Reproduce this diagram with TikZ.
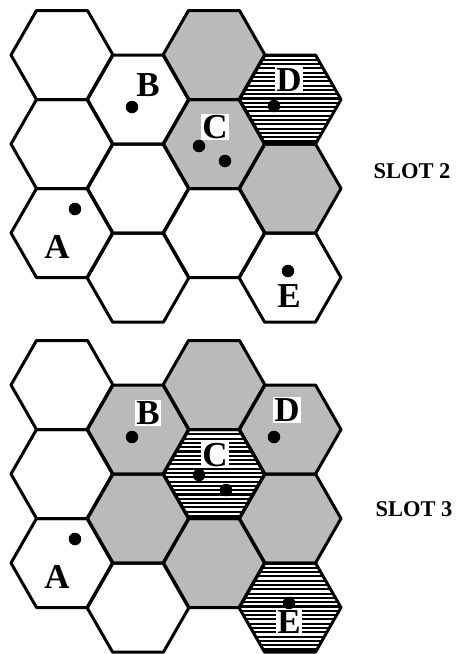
\documentclass[tikz,border=0pt]{standalone}
\usepackage{fontspec}
\setmainfont{Liberation Serif}
\newcommand\hexat[2]{(#1+51,#2) -- (#1+25.5,#2-44.5) -- (#1-25.5,#2-44.5) -- (#1-51,#2) -- (#1-25.5,#2+44.5) -- (#1+25.5,#2+44.5) -- cycle}
\newcommand\hatchhex[2]{%
  \pgfmathsetmacro\hx{62+76*#1}%
  \pgfmathsetmacro\hy{55+89*#2+44.5*mod(#1,2)}%
  \begin{scope}
    \clip \hexat{\hx}{\hy};
    \fill[white] \hexat{\hx}{\hy};
    \foreach \k in {0,...,21}{\draw[hatchline] (\hx-55,\hy-44+4.3*\k) -- ++(110,0);}
  \end{scope}}
\begin{document}
\begin{tikzpicture}[x=1pt,y=-1pt,
  hexline/.style={line width=3pt, line join=round},
  hatchline/.style={line width=2.1pt},
  wh/.style={fill=white},
  stip/.style={fill=black!27},
  lbl/.style={font=\fontsize{35}{35}\selectfont\bfseries, fill=white, inner sep=1.2pt},
  dotn/.style={circle, fill=black, inner sep=0pt, minimum size=12.5pt},
  slot/.style={font=\fontsize{22.5}{22.5}\selectfont\bfseries}]
\useasboundingbox (0,0) rectangle (461,654);
\fill[white] (0,0) rectangle (461,654);
% ---------- SLOT 2 ----------
\begin{scope}
\foreach \c/\r/\s in {0/0/wh,0/1/wh,0/2/wh,1/0/wh,1/1/wh,1/2/wh,2/0/stip,2/1/stip,2/2/wh,3/1/stip,3/2/wh}{
  \pgfmathsetmacro\cx{62+76*\c}
  \pgfmathsetmacro\cy{55+89*\r+44.5*mod(\c,2)}
  \fill[\s] \hexat{\cx}{\cy};
}
\hatchhex{3}{0}
\foreach \c/\r in {0/0,0/1,0/2,1/0,1/1,1/2,2/0,2/1,2/2,3/0,3/1,3/2}{
  \pgfmathsetmacro\cx{62+76*\c}
  \pgfmathsetmacro\cy{55+89*\r+44.5*mod(\c,2)}
  \draw[hexline] \hexat{\cx}{\cy};
}
\node[lbl] (B2) at (148,85) {B};
\node[lbl] (C2) at (215,127) {C};
\node[lbl] (D2) at (289,80) {D};
\node[lbl] (A2) at (57,247) {A};
\node[lbl] (E2) at (289,296) {E};
\node[dotn] (dB2) at (132,107) {};
\node[dotn] (dC2a) at (199,146) {};
\node[dotn] (dC2b) at (225,161) {};
\node[dotn] (dD2) at (274,106) {};
\node[dotn] (dA2) at (75,209) {};
\node[dotn] (dE2) at (288,271) {};
\node[slot] (S2) at (412,171) {SLOT 2};
\end{scope}
% ---------- SLOT 3 ----------
\begin{scope}[shift={(0,330)}]
\foreach \c/\r/\s in {0/0/wh,0/1/wh,0/2/wh,1/0/stip,1/1/stip,1/2/wh,2/0/stip,2/2/stip,3/0/stip,3/1/stip}{
  \pgfmathsetmacro\cx{62+76*\c}
  \pgfmathsetmacro\cy{55+89*\r+44.5*mod(\c,2)}
  \fill[\s] \hexat{\cx}{\cy};
}
\hatchhex{2}{1}
\hatchhex{3}{2}
\foreach \c/\r in {0/0,0/1,0/2,1/0,1/1,1/2,2/0,2/1,2/2,3/0,3/1,3/2}{
  \pgfmathsetmacro\cx{62+76*\c}
  \pgfmathsetmacro\cy{55+89*\r+44.5*mod(\c,2)}
  \draw[hexline] \hexat{\cx}{\cy};
}
\node[lbl] (B3) at (148,83) {B};
\node[lbl] (C3) at (215,125) {C};
\node[lbl] (D3) at (287,80) {D};
\node[lbl] (A3) at (57,247) {A};
\node[lbl] (E3) at (289,292) {E};
\node[dotn] (dB3) at (132,107) {};
\node[dotn] (dC3a) at (199,145) {};
\node[dotn] (dC3b) at (226,160) {};
\node[dotn] (dD3) at (274,107) {};
\node[dotn] (dA3) at (75,209) {};
\node[dotn] (dE3) at (289,273) {};
\node[slot] (S3) at (414,179) {SLOT 3};
\end{scope}
\end{tikzpicture}
\end{document}
